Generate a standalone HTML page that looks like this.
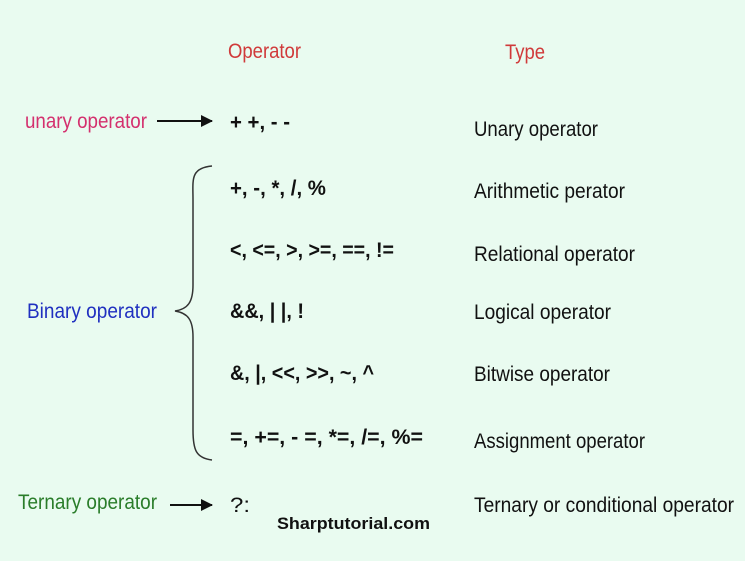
<!DOCTYPE html>
<html><head><style>
html,body{margin:0;padding:0;background:#e9fbf0;}
svg{display:block}
text{font-family:"Liberation Sans",sans-serif;font-size:21px;}
</style></head><body>
<svg width="745" height="561" viewBox="0 0 745 561">
<rect width="745" height="561" fill="#e9fbf0"/>
<defs><marker id="a" markerWidth="12" markerHeight="12" refX="11" refY="6" orient="auto" markerUnits="userSpaceOnUse"><path d="M0,0 L12,6 L0,12 Z" fill="#111"/></marker></defs>
<text x="228" y="58" fill="#d03a3a" textLength="73" lengthAdjust="spacingAndGlyphs">Operator</text>
<text x="505" y="59" fill="#d03a3a" textLength="40" lengthAdjust="spacingAndGlyphs">Type</text>

<text x="25" y="128" fill="#d4306e" textLength="122" lengthAdjust="spacingAndGlyphs">unary operator</text>
<line x1="157" y1="121" x2="212" y2="121" stroke="#111" stroke-width="2" marker-end="url(#a)"/>
<text x="230" y="129" fill="#111" font-weight="bold" textLength="60" lengthAdjust="spacingAndGlyphs">+ +, - -</text>
<text x="474" y="136" fill="#111" textLength="124" lengthAdjust="spacingAndGlyphs">Unary operator</text>

<path d="M212,166 C190,168 193,180 193,200 L193,285 C193,302 188,309 175,311 C188,313 193,320 193,337 L193,430 C193,450 196,458 212,460" fill="none" stroke="#333" stroke-width="1.5"/>
<text x="27" y="318" fill="#2030c0" textLength="130" lengthAdjust="spacingAndGlyphs">Binary operator</text>

<g fill="#111" font-weight="bold">
<text x="230" y="195" textLength="96" lengthAdjust="spacingAndGlyphs">+, -, *, /, %</text>
<text x="230" y="257" textLength="164" lengthAdjust="spacingAndGlyphs">&lt;, &lt;=, &gt;, &gt;=, ==, !=</text>
<text x="230" y="318" textLength="74" lengthAdjust="spacingAndGlyphs">&amp;&amp;, | |, !</text>
<text x="230" y="380" textLength="144" lengthAdjust="spacingAndGlyphs">&amp;, |, &lt;&lt;, &gt;&gt;, ~, ^</text>
<text x="230" y="444" textLength="193" lengthAdjust="spacingAndGlyphs">=, +=, - =,  *=,  /=, %=</text>
<text x="230" y="512" textLength="20" lengthAdjust="spacingAndGlyphs" font-weight="normal">?:</text>
</g>
<g fill="#111">
<text x="474" y="198" textLength="151" lengthAdjust="spacingAndGlyphs">Arithmetic perator</text>
<text x="474" y="261" textLength="161" lengthAdjust="spacingAndGlyphs">Relational operator</text>
<text x="474" y="319" textLength="137" lengthAdjust="spacingAndGlyphs">Logical operator</text>
<text x="474" y="381" textLength="136" lengthAdjust="spacingAndGlyphs">Bitwise operator</text>
<text x="474" y="448" textLength="171" lengthAdjust="spacingAndGlyphs">Assignment operator</text>
<text x="474" y="512" textLength="260" lengthAdjust="spacingAndGlyphs">Ternary or conditional operator</text>
</g>
<text x="18" y="509" fill="#2a7d2a" textLength="139" lengthAdjust="spacingAndGlyphs">Ternary operator</text>
<line x1="170" y1="505" x2="212" y2="505" stroke="#111" stroke-width="2" marker-end="url(#a)"/>
<text x="277" y="529" fill="#111" font-weight="bold" style="font-size:17px" textLength="153" lengthAdjust="spacingAndGlyphs">Sharptutorial.com</text>
</svg>
</body></html>
